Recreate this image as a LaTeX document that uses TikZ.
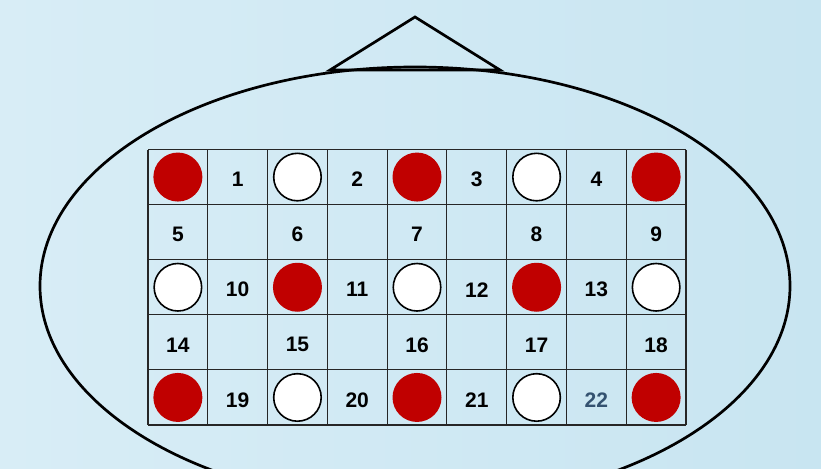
\documentclass[tikz,border=0pt]{standalone}
\usepackage{fontspec}
\setmainfont{Liberation Sans}
\definecolor{bgL}{RGB}{216,237,246}
\definecolor{bgR}{RGB}{200,229,241}
\definecolor{ballred}{RGB}{192,0,0}
\definecolor{slate}{RGB}{52,82,112}
\begin{document}
\begin{tikzpicture}[x=1pt,y=-1pt,
  redball/.style={circle,fill=ballred,minimum size=49pt,inner sep=0pt},
  whiteball/.style={circle,fill=white,draw=black,line width=1.6pt,minimum size=47.5pt,inner sep=0pt},
  num/.style={font=\bfseries\fontsize{21}{21}\selectfont,inner sep=0pt,yshift=-2.5pt},
  gridline/.style={line width=1.1pt,draw=black!85},
  outline/.style={line width=2.7pt,draw=black}]
\useasboundingbox (0,0) rectangle (821,468);
\clip (0,0) rectangle (821,468);
\shade[left color=bgL,right color=bgR] (0,0) rectangle (821,468);
% hanger and frame
\coordinate (tl) at (330,70);
\coordinate (tt) at (415,17);
\coordinate (tr) at (500,70);
\draw[outline,line join=miter] (tl) -- (tt) -- (tr) -- cycle;
\coordinate (ec) at (415,286);
\draw[outline] (ec) ellipse [x radius=375pt, y radius=219pt];
% grid
\foreach \i in {0,...,9}
  \draw[gridline] ({148+\i*59.78},149.5) -- ({148+\i*59.78},425);
\foreach \j in {0,...,5}
  \draw[gridline] (148,{149.5+\j*55.1}) -- (686,{149.5+\j*55.1});
% balls
\foreach \r/\c/\s in {1/1/redball,1/3/whiteball,1/5/redball,1/7/whiteball,1/9/redball,
                      3/1/whiteball,3/3/redball,3/5/whiteball,3/7/redball,3/9/whiteball,
                      5/1/redball,5/3/whiteball,5/5/redball,5/7/whiteball,5/9/redball}
  \node[\s] (b\r-\c) at ({148+(\c-0.5)*59.78},{149.5+(\r-0.5)*55.1}) {};
% numbers
\foreach \r/\c/\n in {1/2/1,1/4/2,1/6/3,1/8/4,
                      2/1/5,2/3/6,2/5/7,2/7/8,2/9/9,
                      3/2/10,3/4/11,3/6/12,3/8/13,
                      4/1/14,4/3/15,4/5/16,4/7/17,4/9/18,
                      5/2/19,5/4/20,5/6/21}
  \node[num] (n\n) at ({148+(\c-0.5)*59.78},{149.5+(\r-0.5)*55.1}) {\n};
\node[num,text=slate] (n22) at ({148+7.5*59.78},{149.5+4.5*55.1}) {22};
\end{tikzpicture}
\end{document}
